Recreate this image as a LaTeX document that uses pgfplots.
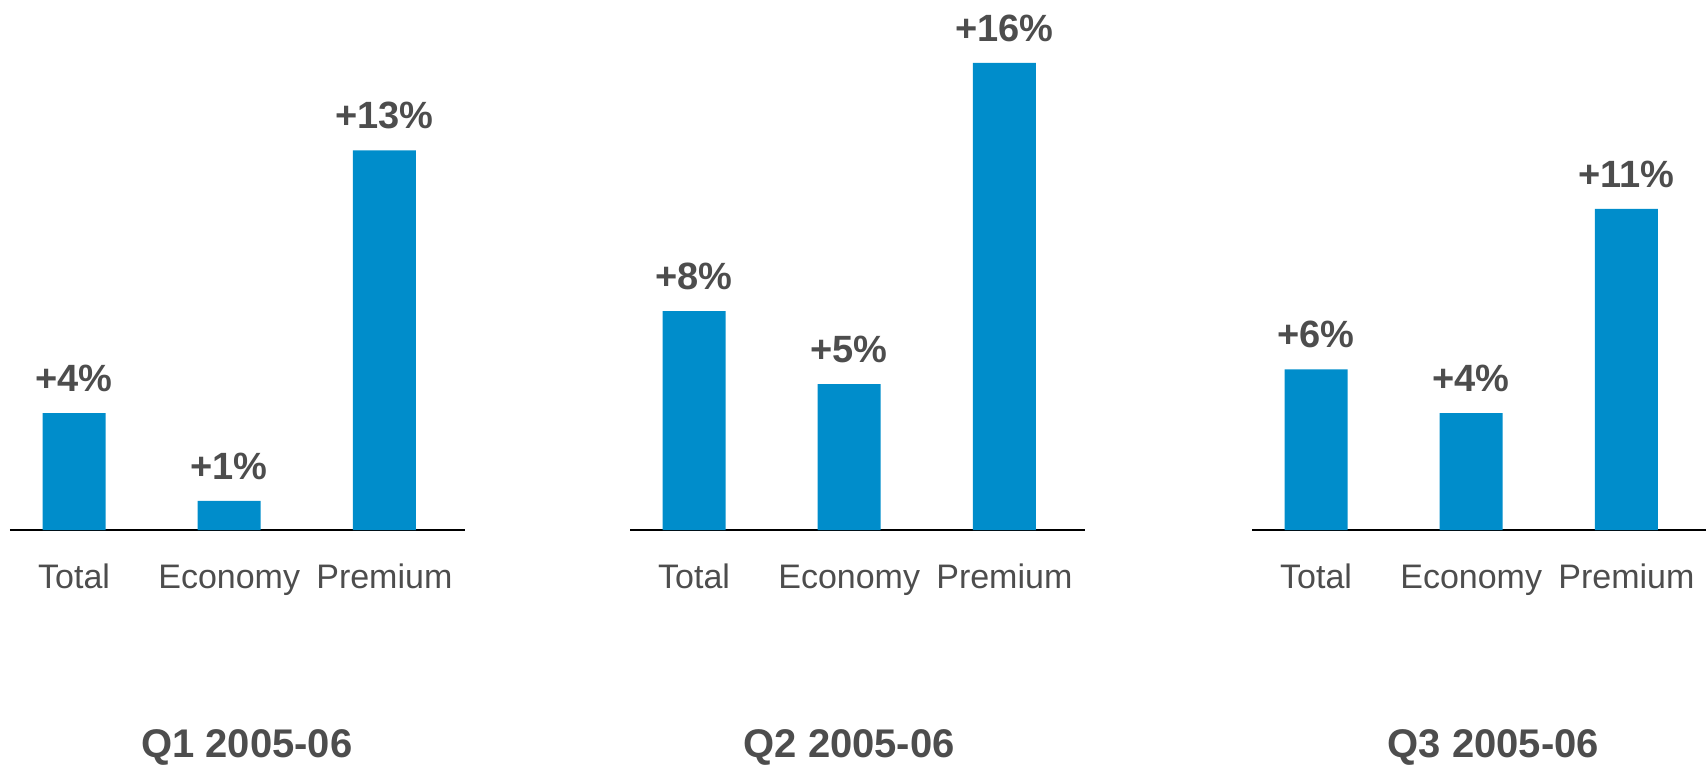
\documentclass[border=0pt]{standalone}
\usepackage{pgfplots}
\pgfplotsset{compat=1.18}
\usepackage{fontspec}
\setmainfont{Liberation Sans}
\definecolor{barblue}{HTML}{008DCB}
\definecolor{txt}{HTML}{4D4D4D}
\pgfplotsset{
 panel/.style={
  scale only axis, width=227.5pt, height=248.2pt,
  xmin=-0.413, xmax=2.52, ymin=0, ymax=17,
  axis x line=bottom, axis y line=none,
  x axis line style={-, line width=1pt, black},
  xtick={0,1,2}, xticklabels={Total,Economy,Premium},
  major tick length=0pt,
  xticklabel style={anchor=base, yshift=-29pt, font=\fontsize{17}{20}\selectfont, text=txt},
  ybar, bar width=31.5pt,
  nodes near coords, point meta=explicit symbolic,
  every node near coord/.append style={anchor=base, yshift=10.75pt, font=\fontsize{19}{22}\selectfont\bfseries, text=txt},
  clip=false,
  anchor=south west,
 },
}
\tikzset{ttl/.style={anchor=base, font=\fontsize{20}{24}\selectfont\bfseries, text=txt}}
\begin{document}
\begin{tikzpicture}
\path[use as bounding box] (0,0) rectangle (853pt,383.5pt);
\begin{axis}[panel, at={(5pt,118.5pt)}]
\addplot[fill=barblue, draw=none] coordinates {(0,4) [+4\%] (1,1) [+1\%] (2,13) [+13\%]};
\node[ttl] at (axis cs:1.113,-7.8) {Q1 2005-06};
\end{axis}
\begin{axis}[panel, at={(315pt,118.5pt)}]
\addplot[fill=barblue, draw=none] coordinates {(0,7.5) [+8\%] (1,5) [+5\%] (2,16) [+16\%]};
\node[ttl] at (axis cs:1.0,-7.8) {Q2 2005-06};
\end{axis}
\begin{axis}[panel, at={(626pt,118.5pt)}]
\addplot[fill=barblue, draw=none] coordinates {(0,5.5) [+6\%] (1,4) [+4\%] (2,11) [+11\%]};
\node[ttl] at (axis cs:1.142,-7.8) {Q3 2005-06};
\end{axis}
\end{tikzpicture}
\end{document}
